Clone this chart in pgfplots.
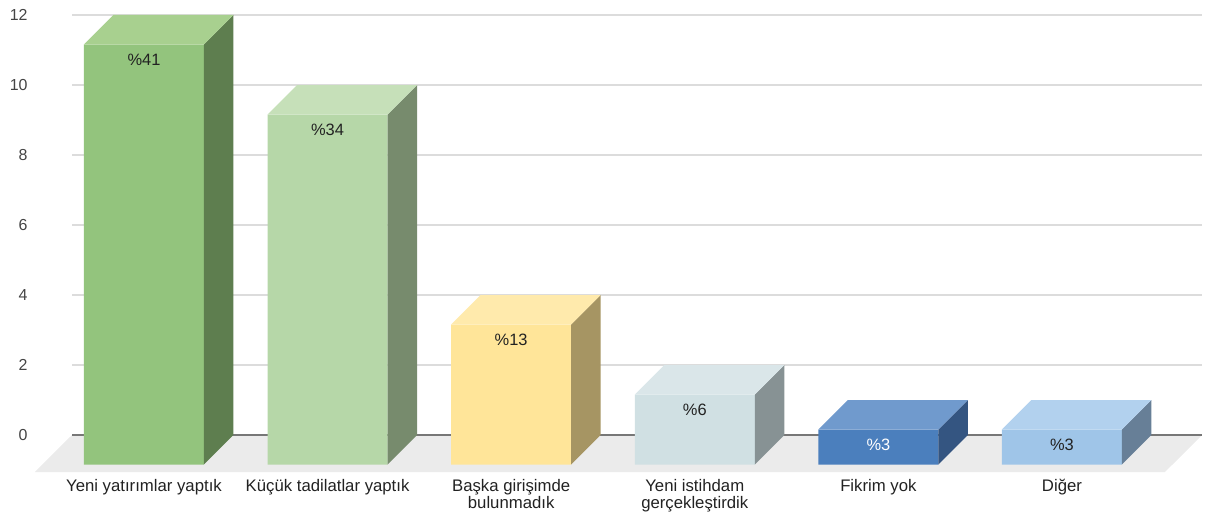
\documentclass[border=0pt]{standalone}
\usepackage{fontspec}
\setmainfont{Liberation Sans}
\usepackage{pgfplots}
\pgfplotsset{compat=1.18}
\definecolor{g1f}{HTML}{93C47D}\definecolor{g1s}{HTML}{5E7E4F}\definecolor{g1t}{HTML}{A8D08F}
\definecolor{g2f}{HTML}{B6D7A8}\definecolor{g2s}{HTML}{778B6D}\definecolor{g2t}{HTML}{C6E0B9}
\definecolor{y3f}{HTML}{FFE599}\definecolor{y3s}{HTML}{A69563}\definecolor{y3t}{HTML}{FFEAAC}
\definecolor{c4f}{HTML}{D0E0E3}\definecolor{c4s}{HTML}{879294}\definecolor{c4t}{HTML}{DAE6E9}
\definecolor{b5f}{HTML}{4B7FBD}\definecolor{b5s}{HTML}{345581}\definecolor{b5t}{HTML}{709ACD}
\definecolor{b6f}{HTML}{9FC5E8}\definecolor{b6s}{HTML}{677F97}\definecolor{b6t}{HTML}{B2D1EE}
\definecolor{floorc}{HTML}{EBEBEB}
\definecolor{gridc}{HTML}{DCDCDC}
\definecolor{zeroc}{HTML}{777777}
\definecolor{tickc}{HTML}{444444}
\definecolor{labc}{HTML}{222222}
% #1 category index, #2 value, #3 front, #4 side, #5 top colour
\newcommand{\cube}[5]{%
  \pgfmathsetmacro\xl{#1-0.3268}%
  \pgfmathsetmacro\xr{#1+0.3268}%
  \pgfmathsetmacro\xlb{#1-0.3268+0.1607}%
  \pgfmathsetmacro\xrb{#1+0.3268+0.1607}%
  \pgfmathsetmacro\yf{#2-0.843}%
  \edef\doit{%
    \noexpand\addplot[fill=#3, draw=none] coordinates {(\xl,-0.843) (\xr,-0.843) (\xr,\yf) (\xl,\yf) (\xl,-0.843)};
    \noexpand\addplot[fill=#4, draw=none] coordinates {(\xr,-0.843) (\xrb,0) (\xrb,#2) (\xr,\yf) (\xr,-0.843)};
    \noexpand\addplot[fill=#5, draw=none] coordinates {(\xl,\yf) (\xlb,#2) (\xrb,#2) (\xr,\yf) (\xl,\yf)};
  }\doit
}
\begin{document}
\begin{tikzpicture}
\path[use as bounding box] (0,0) rectangle (1206bp,516bp);
\begin{axis}[
  at={(72bp,44bp)}, anchor=south west,
  x=183.6bp, y=35bp,
  xmin=-0.392, xmax=5.763, ymin=-1.057, ymax=12,
  enlargelimits=false, clip=false,
  axis line style={draw=none}, tick style={draw=none},
  ytick={0,2,...,12}, ymajorgrids, grid style={gridc, line width=1.2bp},
  /pgf/number format/assume math mode=true,
  y tick label style={font=\fontsize{16}{17}\selectfont, text=tickc, xshift=-41bp},
  xtick={0,...,5},
  xticklabels={Yeni yatırımlar yaptık, Küçük tadilatlar yaptık, {Başka girişimde\\bulunmadık}, {Yeni istihdam\\gerçekleştirdik}, Fikrim yok, Diğer},
  x tick label style={font=\fontsize{16.8}{16.8}\selectfont, text=labc, align=center, anchor=north, yshift=-4bp},
]
% floor
\addplot[fill=floorc, draw=none] coordinates {(-0.392,0) (5.763,0) (5.561,-1.057) (-0.594,-1.057) (-0.392,0)};
% zero line
\addplot[draw=zeroc, line width=1.4bp] coordinates {(-0.392,0) (5.763,0)};
% bars
\cube{0}{12}{g1f}{g1s}{g1t}
\cube{1}{10}{g2f}{g2s}{g2t}
\cube{2}{4}{y3f}{y3s}{y3t}
\cube{3}{2}{c4f}{c4s}{c4t}
\cube{4}{1}{b5f}{b5s}{b5t}
\cube{5}{1}{b6f}{b6s}{b6t}
% percentage labels
\addplot[draw=none, mark=none, nodes near coords, point meta=explicit symbolic,
  nodes near coords style={anchor=center, font=\fontsize{16.5}{17}\selectfont, text=labc}]
  coordinates {(0,10.73) [\%41] (1,8.73) [\%34] (2,2.73) [\%13] (3,0.73) [\%6] (5,-0.27) [\%3]};
\addplot[draw=none, mark=none, nodes near coords, point meta=explicit symbolic,
  nodes near coords style={anchor=center, font=\fontsize{16.5}{17}\selectfont, text=white}]
  coordinates {(4,-0.27) [\%3]};
\end{axis}
\end{tikzpicture}
\end{document}
